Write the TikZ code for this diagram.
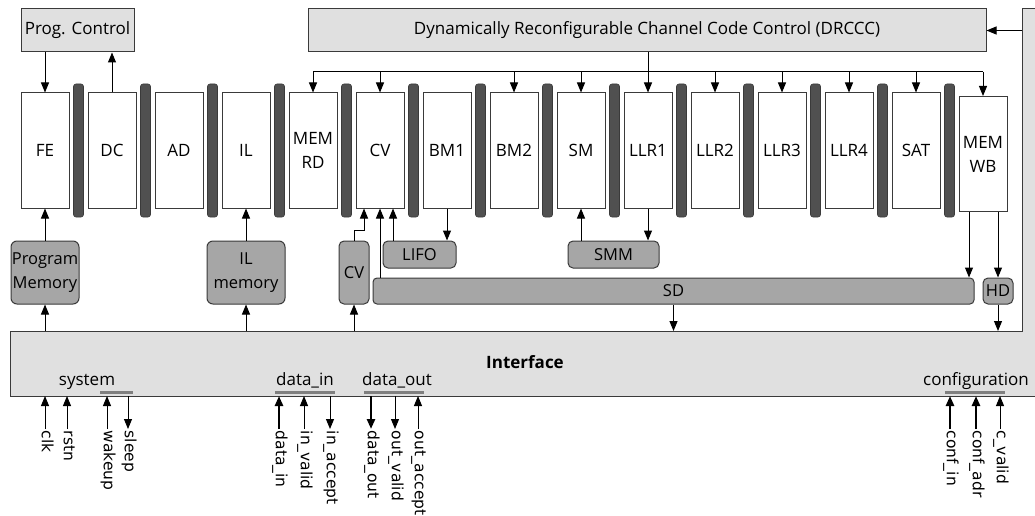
\documentclass[tikz,border=0pt]{standalone}
\usepackage{fontspec}
\setmainfont{Open Sans}
\newfontfamily\sigfont{DejaVu Sans}
\usetikzlibrary{arrows.meta}
\definecolor{boxfill}{HTML}{E0E0E0}
\definecolor{memfill}{HTML}{A6A6A6}
\definecolor{regfill}{HTML}{505050}
\definecolor{edge}{HTML}{3A3A3A}
\definecolor{grpbarc}{HTML}{7F7F7F}
\begin{document}
\begin{tikzpicture}[x=1pt,y=-1pt,
  every node/.style={font=\fontsize{17}{20}\selectfont},
  ctrl/.style={draw=edge,fill=boxfill,line width=1pt,inner sep=0pt},
  stagebox/.style={draw=edge,fill=white,line width=1pt,minimum width=48pt,minimum height=115pt,inner sep=0pt,align=center,font=\fontsize{17}{24}\selectfont},
  regbar/.style={draw=edge,fill=regfill,line width=0.6pt,rounded corners=2.5pt,minimum width=10pt,minimum height=133pt,inner sep=0pt},
  membox/.style={draw=edge,fill=memfill,line width=1pt,rounded corners=6pt,inner sep=0pt,align=center,font=\fontsize{16.5}{24}\selectfont},
  arr/.style={line width=1pt,-{Triangle[length=10pt,width=8pt]}},
  thickarr/.style={line width=2.8pt,-{Triangle[length=10pt,width=8pt]}},
  sig/.style={font=\sigfont\fontsize{15.5}{17}\selectfont,rotate=-90,anchor=west,inner sep=1.5pt,text height=1.6ex,text depth=0.45ex},
  grp/.style={anchor=base,inner sep=0pt},
  gbar/.style={draw=grpbarc,line width=3pt}
]
\useasboundingbox (0,0) rectangle (1035,516);
\fill[white] (0,0) rectangle (1035,516);

% Interface (L-shaped)
\draw[draw=edge,fill=boxfill,line width=1pt] (10,331) -- (1022,331) -- (1022,9) -- (1050,9) -- (1050,396) -- (10,396) -- cycle;
\coordinate (ift) at (0,331);
\coordinate (ifb) at (0,396);
\coordinate (ifr) at (1022,30.5);
\node[font=\bfseries\fontsize{17}{20}\selectfont] (iface) at (525,362) {Interface};

% control boxes
\node[ctrl,minimum width=113pt,minimum height=43pt] (pc) at (77.5,30.5) {Prog. Control};
\node[ctrl,minimum width=678pt,minimum height=43pt] (drccc) at (647,30.5) {Dynamically Reconfigurable Channel Code Control (DRCCC)};

% pipeline stages
\node[stagebox] (fe) at (45,150.5) {FE};
\node[stagebox] (dc) at (112,150.5) {DC};
\node[stagebox] (ad) at (179,150.5) {AD};
\node[stagebox] (il) at (246,150.5) {IL};
\node[stagebox] (memrd) at (313,150.5) {MEM\\RD};
\node[stagebox] (cv) at (380,150.5) {CV};
\node[stagebox] (bmone) at (447,150.5) {BM1};
\node[stagebox] (bmtwo) at (514,150.5) {BM2};
\node[stagebox] (sm) at (581,150.5) {SM};
\node[stagebox] (llrone) at (648,150.5) {LLR1};
\node[stagebox] (llrtwo) at (715,150.5) {LLR2};
\node[stagebox] (llrthree) at (782,150.5) {LLR3};
\node[stagebox] (llrfour) at (849,150.5) {LLR4};
\node[stagebox] (sat) at (916,150.5) {SAT};
\node[stagebox] (memwb) at (983,154) {MEM\\WB};

% pipeline registers
\foreach \k in {0,...,13} {
  \node[regbar] (reg\k) at (78.5+67*\k,150.5) {};
}

% memories
\node[membox,minimum width=68pt,minimum height=63pt] (pm) at (45,272.5) {Program\\Memory};
\node[membox,minimum width=78pt,minimum height=63pt] (ilm) at (246,272.5) {IL\\memory};
\node[membox,minimum width=30pt,minimum height=63pt,rounded corners=5pt] (cvm) at (354,272.5) {CV};
\node[membox,minimum width=73pt,minimum height=27pt,rounded corners=5pt] (lifo) at (419.5,254.5) {LIFO};
\node[membox,minimum width=91pt,minimum height=27pt,rounded corners=5pt] (smm) at (613.5,254.5) {SMM};
\node[membox,minimum width=601pt,minimum height=26pt,rounded corners=4pt] (sd) at (673.5,291) {SD};
\node[membox,minimum width=30pt,minimum height=26pt,rounded corners=5pt] (hd) at (998,291) {HD};

% program control
\draw[arr] (pc.south -| fe.north) -- (fe.north);
\draw[arr] (dc.north) -- (dc.north |- pc.south);

% DRCCC distribution
\coordinate (bus) at (0,72);
\draw[line width=1pt] (bus -| memrd.north) -- (bus -| memwb.north);
\draw[arr] (drccc.south -| llrone.north) -- (llrone.north);
\foreach \n in {memrd,cv,bmtwo,sm,llrtwo,llrthree,llrfour,sat,memwb} {
  \draw[arr] (bus -| \n.north) -- (\n.north);
}
\draw[arr] (ifr) -- (drccc.east);

% memories to stages
\draw[arr] (pm.north) -- (fe.south);
\draw[arr] (pm.south |- ift) -- (pm.south);
\draw[arr] (ilm.north) -- (il.south);
\draw[arr] (ilm.south |- ift) -- (ilm.south);
\draw[arr] (cvm.south |- ift) -- (cvm.south);
\draw[arr] (cvm.north) -- ++(0,-10) -| ([xshift=-16pt]cv.south);
\draw[arr] (sd.north -| cv.south) -- (cv.south);
\draw[arr] ([xshift=13pt]cv.south |- lifo.north) -- ([xshift=13pt]cv.south);
\draw[arr] (bmone.south) -- (bmone.south |- lifo.north);
\draw[arr] (smm.north -| sm.south) -- (sm.south);
\draw[arr] (llrone.south) -- (llrone.south |- smm.north);
\draw[arr] (sd.south) -- (sd.south |- ift);
\draw[arr] ([xshift=-14pt]memwb.south) -- ([xshift=-14pt]memwb.south |- sd.north);
\draw[arr] (memwb.south -| hd.north) -- (hd.north);
\draw[arr] (hd.south) -- (hd.south |- ift);

% interface groups
\node[grp] (gsys) at (87,385) {system};
\node[grp] (gdin) at (305,385) {data\_in};
\node[grp] (gdout) at (397,385) {data\_out};
\node[grp] (gconf) at (976,385) {configuration};
\draw[gbar] (100,392) -- (133,392);
\draw[gbar] (275,392) -- (335,392);
\draw[gbar] (364,392) -- (424,392);
\draw[gbar] (945,392) -- (1005,392);

% signals
\node[sig] (sclk) at (45,429) {clk};
\node[sig] (srstn) at (67,429) {rstn};
\node[sig] (swake) at (107,429) {wakeup};
\node[sig] (ssleep) at (128,429) {sleep};
\node[sig] (sdin) at (279,429) {data\_in};
\node[sig] (sinv) at (304,429) {in\_valid};
\node[sig] (sinacc) at (330,429) {in\_accept};
\node[sig] (sdout) at (371,429) {data\_out};
\node[sig] (soutv) at (395,429) {out\_valid};
\node[sig] (soutacc) at (418,429) {out\_accept};
\node[sig] (scin) at (950,429) {conf\_in};
\node[sig] (scadr) at (976,429) {conf\_adr};
\node[sig] (scval) at (1000,429) {c\_valid};

\draw[arr] (sclk.west) -- (sclk.west |- ifb);
\draw[arr] (srstn.west) -- (srstn.west |- ifb);
\draw[arr] (swake.west) -- (swake.west |- ifb);
\draw[arr] (ssleep.west |- ifb) -- (ssleep.west);
\draw[thickarr] (sdin.west) -- (sdin.west |- ifb);
\draw[arr] (sinv.west) -- (sinv.west |- ifb);
\draw[arr] (sinacc.west |- ifb) -- (sinacc.west);
\draw[thickarr] (sdout.west |- ifb) -- (sdout.west);
\draw[arr] (soutv.west |- ifb) -- (soutv.west);
\draw[arr] (soutacc.west) -- (soutacc.west |- ifb);
\draw[thickarr] (scin.west) -- (scin.west |- ifb);
\draw[thickarr] (scadr.west) -- (scadr.west |- ifb);
\draw[arr] (scval.west) -- (scval.west |- ifb);
\end{tikzpicture}
\end{document}
